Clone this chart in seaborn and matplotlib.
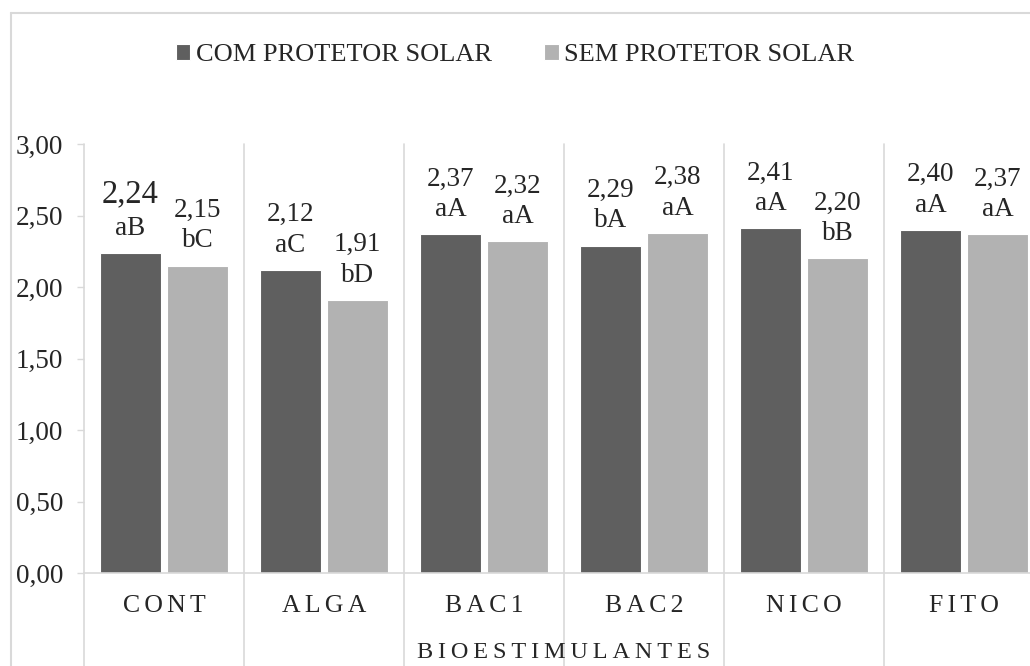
import numpy as np
import pandas as pd
import matplotlib
matplotlib.use("Agg")
import matplotlib.pyplot as plt
import seaborn as sns
from matplotlib.lines import Line2D
from matplotlib.ticker import FuncFormatter

# data
tratamentos = ["CONT", "ALGA", "BAC1", "BAC2", "NICO", "FITO"]
grupos = ["COM PROTETOR SOLAR", "SEM PROTETOR SOLAR"]
com_protetor = [2.24, 2.12, 2.37, 2.29, 2.41, 2.40]
sem_protetor = [2.15, 1.91, 2.32, 2.38, 2.20, 2.37]
letras_com = ["aB", "aC", "aA", "bA", "aA", "aA"]
letras_sem = ["bC", "bD", "aA", "aA", "bB", "aA"]

cores = ["#5f5f5f", "#b2b2b2"]
cinza = "#d9d9d9"

df = pd.DataFrame({
    "trat": tratamentos * 2,
    "grupo": [grupos[0]] * 6 + [grupos[1]] * 6,
    "valor": com_protetor + sem_protetor,
})

sns.set_style("white")
plt.rcParams["font.family"] = ["Liberation Serif", "DejaVu Serif"]


def espacar(s, sp="\u2009"):
    return sp.join(s)


fig = plt.figure(figsize=(10.30, 6.66), dpi=100)
ax = fig.add_axes([84 / 1030, 93 / 666, 960 / 1030, 429 / 666])

sns.barplot(
    data=df, x="trat", y="valor", hue="grupo", palette=cores,
    width=0.84, gap=0.09, edgecolor="white", linewidth=0.8, ax=ax, saturation=1,
)

ax.set_ylim(0, 3)
ax.set_xlim(-0.5, 5.5)
ax.set_yticks(np.arange(0, 3.01, 0.5))
ax.yaxis.set_major_formatter(FuncFormatter(lambda v, p: f"{v:.2f}".replace(".", ",")))
ax.tick_params(axis="y", length=5, width=1, color=cinza, pad=10, labelsize=19.5,
               left=True, direction="out")
ax.tick_params(axis="x", length=0, pad=16, labelsize=18.5)
ax.set_xticks(range(6))
ax.set_xticklabels([espacar(t, "\u2006") for t in tratamentos])
ax.set_ylabel("")
ax.set_xlabel(espacar("BIOESTIMULANTES"), fontsize=17.5, labelpad=18)

for s in ["top", "right", "left"]:
    ax.spines[s].set_visible(False)
ax.spines["bottom"].set_color(cinza)
ax.spines["bottom"].set_linewidth(1.2)

# separators between categories, running below the axis like Excel
for xs in np.arange(-0.5, 6.0, 1.0):
    ax.axvline(xs, ymin=-0.3, ymax=1, color=cinza, lw=1.2, clip_on=False, zorder=0)

# value labels
for i, bars in enumerate(ax.containers[:2]):
    vals = com_protetor if i == 0 else sem_protetor
    letras = letras_com if i == 0 else letras_sem
    for j, b in enumerate(bars):
        x = b.get_x() + b.get_width() / 2
        h = b.get_height()
        ax.annotate(letras[j], (x, h), xytext=(0, 13), textcoords="offset points",
                    ha="center", va="baseline", fontsize=19.5)
        big = (i == 0 and j == 0)
        ax.annotate(f"{vals[j]:.2f}".replace(".", ","), (x, h),
                    xytext=(0, 36 if big else 35), textcoords="offset points",
                    ha="center", va="baseline", fontsize=23.5 if big else 19.5)

handles, labels = ax.get_legend_handles_labels()
ax.get_legend().remove()
fig.legend(handles, labels, loc="center", bbox_to_anchor=(0.5, 1 - 55 / 666),
           ncol=2, frameon=False, fontsize=19, handlelength=0.55, handleheight=0.55,
           handletextpad=0.2, columnspacing=2.0)

# outer chart border (left and top visible)
fig.add_artist(Line2D([11 / 1030, 11 / 1030], [0, 1 - 13 / 666], color=cinza, lw=1.5))
fig.add_artist(Line2D([11 / 1030, 1.0], [1 - 13 / 666, 1 - 13 / 666], color=cinza, lw=1.5))

fig.savefig("out.png", dpi=100)
